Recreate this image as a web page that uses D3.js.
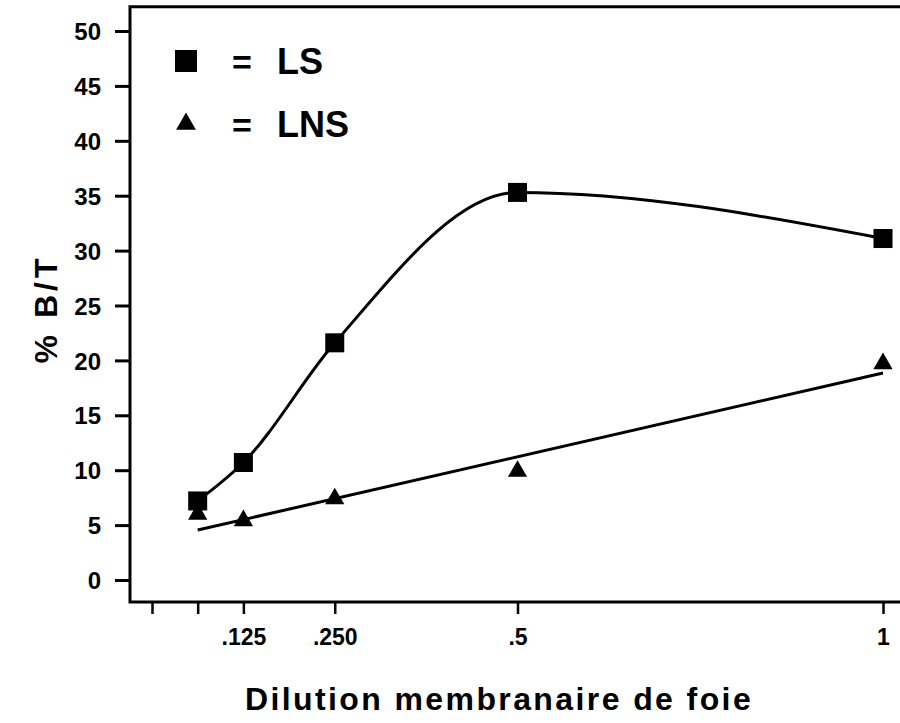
<!DOCTYPE html>
<html>
<head>
<meta charset="utf-8">
<script src="https://cdn.jsdelivr.net/npm/d3@7"></script>
<style>
  html, body { margin: 0; padding: 0; background: #fff; }
  svg { display: block; }
  text { font-family: "Liberation Sans", Arial, sans-serif; font-weight: bold; fill: #000; }
</style>
</head>
<body>
<svg id="chart" width="900" height="723"></svg>
<script>
// ---- data ----
const dilutions = [0.0625, 0.125, 0.25, 0.5, 1];
const lsValues  = [7.2, 10.7, 21.6, 35.3, 31.1];
const lnsValues = [6.0, 5.4, 7.4, 9.9, 19.7];
const lnsFitX   = [0.0625, 1];
const lnsFitY   = [4.55, 18.85];
const xTickValues = [0, 0.0625, 0.125, 0.25, 0.5, 1];
const xTickLabels = ["", "", ".125", ".250", ".5", "1"];
const yTickValues = [0, 5, 10, 15, 20, 25, 30, 35, 40, 45, 50];
const legendItems = [
  { symbol: "square",   label: "LS" },
  { symbol: "triangle", label: "LNS" }
];
const xTitle = "Dilution membranaire de foie";
const yTitle = "% B/T";

// ---- scales ----
const svg = d3.select("#chart");
const x = d3.scaleLinear().domain([0, 1]).range([152, 883]);
const y = d3.scaleLinear().domain([0, 50]).range([580, 31]);
const xMin = 130, xMax = 900;
const yBottom = y(-2), yTop = y(52.2);

// ---- frame ----
svg.append("path")
  .attr("d", `M${xMax},${yTop} L${xMin},${yTop} L${xMin},${yBottom} L${xMax},${yBottom}`)
  .attr("fill", "none").attr("stroke", "#000").attr("stroke-width", 3);

// ---- axes ----
const yAxis = d3.axisLeft(y).tickValues(yTickValues).tickSize(15).tickPadding(14);
const gy = svg.append("g").attr("transform", `translate(${xMin},0)`).call(yAxis);
gy.attr("font-size", null).attr("font-family", null);
gy.select(".domain").remove();
gy.selectAll(".tick line").attr("stroke-width", 3);
gy.selectAll(".tick text").style("font-size", "24px").attr("dy", "0.36em");

const xAxis = d3.axisBottom(x).tickValues(xTickValues).tickSize(12).tickPadding(15)
  .tickFormat((d, i) => xTickLabels[i]);
const gx = svg.append("g").attr("transform", `translate(0,${yBottom})`).call(xAxis);
gx.attr("font-size", null).attr("font-family", null);
gx.select(".domain").remove();
gx.selectAll(".tick line").attr("stroke-width", 2.5);
gx.selectAll(".tick text").style("font-size", "23px");

// ---- titles ----
svg.append("text").attr("x", 499).attr("y", 710).attr("text-anchor", "middle")
  .style("font-size", "32px").style("letter-spacing", "2.4px").text(xTitle);
svg.append("text").attr("transform", "translate(57,309) rotate(-90)")
  .attr("text-anchor", "middle").style("font-size", "32px").style("letter-spacing", "4px").text(yTitle);

// ---- LNS fit line ----
svg.append("line")
  .attr("x1", x(lnsFitX[0])).attr("y1", y(lnsFitY[0]))
  .attr("x2", x(lnsFitX[1])).attr("y2", y(lnsFitY[1]))
  .attr("stroke", "#000").attr("stroke-width", 3);

// ---- LS curve ----
const lsPts = dilutions.map((d, i) => [d, lsValues[i]]);
svg.append("path")
  .attr("d", d3.line().x(d => x(d[0])).y(d => y(d[1])).curve(d3.curveMonotoneX)(lsPts))
  .attr("fill", "none").attr("stroke", "#000").attr("stroke-width", 3);

// ---- markers ----
const tri = d3.symbol().type(d3.symbolTriangle).size(160);
svg.append("g").selectAll("path").data(dilutions).join("path")
  .attr("d", tri)
  .attr("transform", (d, i) => `translate(${x(d)},${y(lnsValues[i])})`)
  .attr("fill", "#000");

const sq = 19;
svg.append("g").selectAll("rect").data(dilutions).join("rect")
  .attr("x", d => x(d) - sq / 2)
  .attr("y", (d, i) => y(lsValues[i]) - sq / 2)
  .attr("width", sq).attr("height", sq).attr("fill", "#000");

// ---- legend ----
const leg = svg.append("g");
legendItems.forEach((it, i) => {
  const cy = 61 + i * 63;
  if (it.symbol === "square") {
    leg.append("rect").attr("x", 175).attr("y", cy - 11).attr("width", 22).attr("height", 22).attr("fill", "#000");
  } else {
    leg.append("path").attr("d", d3.symbol().type(d3.symbolTriangle).size(170)())
      .attr("transform", `translate(186,${cy})`).attr("fill", "#000");
  }
  leg.append("text").attr("x", 232).attr("y", cy + 13).style("font-size", "34px").text("=");
  leg.append("text").attr("x", 277).attr("y", cy + 13).style("font-size", "36px").text(it.label);
});
</script>
</body>
</html>
